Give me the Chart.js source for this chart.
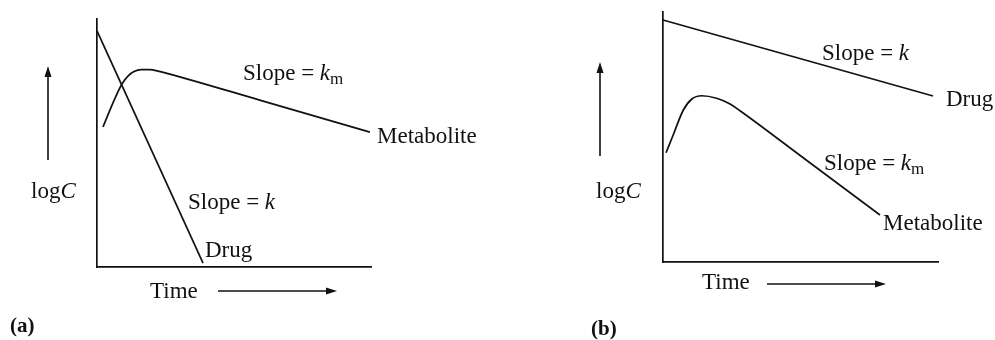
<!DOCTYPE html>
<html>
<head>
<meta charset="utf-8">
<script src="https://cdn.jsdelivr.net/npm/chart.js@4.4.1/dist/chart.umd.min.js"></script>
<style>
  html, body { margin: 0; padding: 0; background: #fff; }
  body { width: 995px; height: 340px; position: relative; overflow: hidden; }
  canvas { position: absolute; top: 0; }
  #chartA { left: 0; }
  #chartB { left: 497px; }
</style>
</head>
<body>
<canvas id="chartA" width="497" height="340"></canvas>
<canvas id="chartB" width="498" height="340"></canvas>
<script>
// panel (a): drug falls fast, metabolite slower
const drugA_time = [0, 3.87];
const drugA_logC = [9.52, 0.16];
const metA_time = [0.22, 0.58, 0.91, 1.13, 1.35, 1.61, 1.93, 2.23, 2.59, 6.0, 9.96];
const metA_logC = [5.65, 6.61, 7.38, 7.70, 7.88, 7.96, 7.96, 7.90, 7.80, 6.71, 5.44];

// panel (b): drug falls slowly, metabolite faster
const drugB_time = [0, 9.82];
const drugB_logC = [9.68, 6.64];
const metB_time = [0.11, 0.37, 0.74, 1.04, 1.41, 1.95, 2.44, 2.80, 5.0, 7.89];
const metB_logC = [4.37, 5.08, 6.08, 6.51, 6.65, 6.55, 6.32, 6.05, 4.25, 1.88];

const FONT = '"Liberation Serif", "Times New Roman", serif';
const INK = '#111';

function pts(xs, ys) {
    return xs.map((x, i) => ({ x: x, y: ys[i] }));
}

// text made of pieces: [text, style] with style 'r' roman, 'i' italic, 's' subscript
function drawRich(ctx, x, y, parts, size) {
    let cx = x;
    parts.forEach(([t, st]) => {
        let sz = size, dy = 0, it = '';
        if (st === 'i') it = 'italic ';
        if (st === 's') { sz = Math.round(size * 0.72); dy = 4; }
        ctx.font = it + sz + 'px ' + FONT;
        ctx.fillText(t, cx, y + dy);
        cx += ctx.measureText(t).width;
    });
}

function arrow(ctx, x1, y1, x2, y2) {
    const a = Math.atan2(y2 - y1, x2 - x1);
    const L = 11, W = 3.5;
    ctx.beginPath();
    ctx.moveTo(x1, y1);
    ctx.lineTo(x2 - L * Math.cos(a), y2 - L * Math.sin(a));
    ctx.stroke();
    ctx.beginPath();
    ctx.moveTo(x2, y2);
    ctx.lineTo(x2 - L * Math.cos(a) - W * Math.sin(a), y2 - L * Math.sin(a) + W * Math.cos(a));
    ctx.lineTo(x2 - L * Math.cos(a) + W * Math.sin(a), y2 - L * Math.sin(a) - W * Math.cos(a));
    ctx.closePath();
    ctx.fill();
}

const annotPlugin = {
    id: 'annot',
    afterDraw(chart, args, opts) {
        const ctx = chart.ctx;
        ctx.save();
        ctx.fillStyle = INK;
        ctx.strokeStyle = INK;
        ctx.lineWidth = 1.6;
        ctx.textBaseline = 'alphabetic';
        ctx.textAlign = 'left';
        (opts.labels || []).forEach(l => drawRich(ctx, l.x, l.y, l.parts, l.size || 23));
        (opts.arrows || []).forEach(a => arrow(ctx, a[0], a[1], a[2], a[3]));
        if (opts.tag) {
            ctx.font = 'bold 21px ' + FONT;
            ctx.fillText(opts.tag.text, opts.tag.x, opts.tag.y);
        }
        ctx.restore();
    }
};

function lineSet(data, smooth) {
    return {
        data: data,
        borderColor: INK,
        borderWidth: 1.7,
        pointRadius: 0,
        fill: false,
        clip: false,
        cubicInterpolationMode: smooth ? 'monotone' : 'default',
        tension: 0
    };
}

function axis(pos) {
    return {
        type: 'linear',
        position: pos,
        min: 0,
        max: 10,
        ticks: { display: false },
        grid: { display: false, drawTicks: false },
        border: { display: true, color: INK, width: 1.7 }
    };
}

function makeChart(id, sets, pad, annot) {
    return new Chart(document.getElementById(id), {
        type: 'line',
        data: { datasets: sets },
        options: {
            responsive: false,
            animation: false,
            layout: { padding: pad },
            plugins: { legend: { display: false }, tooltip: { enabled: false }, annot: annot },
            scales: { x: axis('bottom'), y: axis('left') }
        },
        plugins: [annotPlugin]
    });
}

makeChart('chartA',
    [lineSet(pts(drugA_time, drugA_logC), false), lineSet(pts(metA_time, metA_logC), true)],
    { left: 97, right: 126, top: 19, bottom: 73 },
    {
        labels: [
            { x: 243, y: 80, parts: [['Slope = ', 'r'], ['k', 'i'], ['m', 's']] },
            { x: 377, y: 143, parts: [['Metabolite', 'r']] },
            { x: 188, y: 209, parts: [['Slope = ', 'r'], ['k', 'i']] },
            { x: 205, y: 257, parts: [['Drug', 'r']] },
            { x: 31, y: 198, parts: [['log', 'r'], ['C', 'i']] },
            { x: 150, y: 298, parts: [['Time', 'r']] }
        ],
        arrows: [[48, 160, 48, 66], [218, 291, 337, 291]],
        tag: { text: '(a)', x: 10, y: 332 }
    });

makeChart('chartB',
    [lineSet(pts(drugB_time, drugB_logC), false), lineSet(pts(metB_time, metB_logC), true)],
    { left: 166, right: 57, top: 12, bottom: 78 },
    {
        labels: [
            { x: 325, y: 60, parts: [['Slope = ', 'r'], ['k', 'i']] },
            { x: 449, y: 106, parts: [['Drug', 'r']] },
            { x: 327, y: 170, parts: [['Slope = ', 'r'], ['k', 'i'], ['m', 's']] },
            { x: 386, y: 230, parts: [['Metabolite', 'r']] },
            { x: 99, y: 198, parts: [['log', 'r'], ['C', 'i']] },
            { x: 205, y: 289, parts: [['Time', 'r']] }
        ],
        arrows: [[103, 156, 103, 62], [270, 284, 389, 284]],
        tag: { text: '(b)', x: 94, y: 335 }
    });
</script>
</body>
</html>
